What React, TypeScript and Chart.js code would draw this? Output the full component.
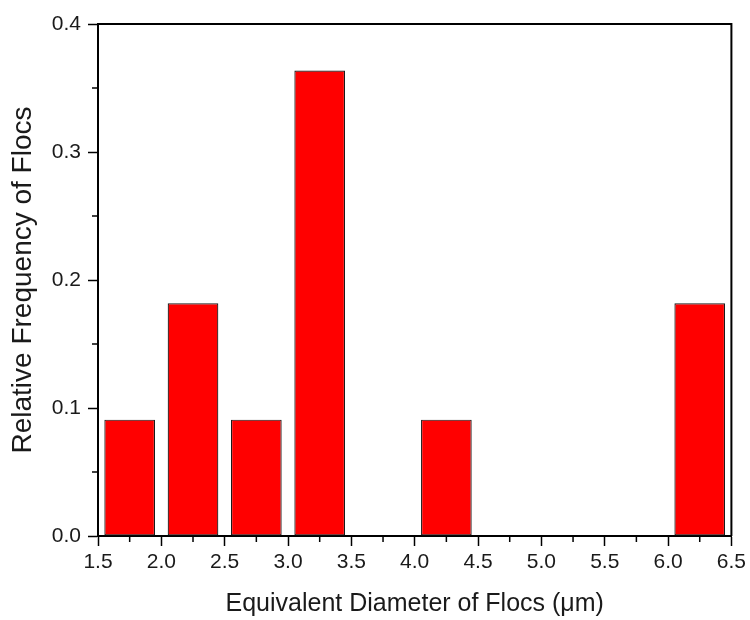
import React, { useEffect, useRef } from "react";
import { Chart, registerables } from "chart.js";

Chart.register(...registerables);

const binCenters: number[] = [1.75, 2.25, 2.75, 3.25, 4.25, 6.25];
const frequencies: number[] = [0.0909, 0.1818, 0.0909, 0.3636, 0.0909, 0.1818];
const xMinorTicks: number[] = [1.75, 2.25, 2.75, 3.25, 3.75, 4.25, 4.75, 5.25, 5.75, 6.25];
const yMinorTicks: number[] = [0.05, 0.15, 0.25, 0.35];
const xTitle = "Equivalent Diameter of Flocs (\u03bcm)";
const yTitle = "Relative Frequency of Flocs";

const FONT = "'Liberation Sans', Arial, Helvetica, sans-serif";

const framePlugin = {
  id: "frameAndMinor",
  afterDraw(chart: any) {
    const { ctx, chartArea } = chart;
    const xs = chart.scales.x;
    const ys = chart.scales.y;
    ctx.save();
    ctx.strokeStyle = "#000";
    ctx.lineWidth = 2;
    ctx.beginPath();
    ctx.moveTo(chartArea.left, chartArea.top);
    ctx.lineTo(chartArea.right, chartArea.top);
    ctx.lineTo(chartArea.right, chartArea.bottom);
    ctx.stroke();
    ctx.lineWidth = 1.5;
    ctx.beginPath();
    for (const v of xMinorTicks) {
      const px = xs.getPixelForValue(v);
      ctx.moveTo(px, chartArea.bottom);
      ctx.lineTo(px, chartArea.bottom + 6);
    }
    for (const v of yMinorTicks) {
      const py = ys.getPixelForValue(v);
      ctx.moveTo(chartArea.left, py);
      ctx.lineTo(chartArea.left - 6, py);
    }
    ctx.stroke();
    ctx.restore();
  },
};

export default function App() {
  const ref = useRef<HTMLCanvasElement | null>(null);
  useEffect(() => {
    if (!ref.current) return;
    const chart = new Chart(ref.current, {
      type: "bar",
      data: {
        datasets: [
          {
            data: binCenters.map((x, i) => ({ x, y: frequencies[i] })),
            backgroundColor: "#ff0000",
            borderColor: "#1a1a1a",
            borderWidth: 1.2,
            borderSkipped: false,
            barPercentage: 0.8,
            categoryPercentage: 1,
          },
        ],
      },
      options: {
        animation: false,
        responsive: true,
        maintainAspectRatio: false,
        layout: { padding: { top: 24, right: 17, left: 0, bottom: 0 } },
        plugins: { legend: { display: false }, tooltip: { enabled: false } },
        scales: {
          x: {
            type: "linear",
            min: 1.5,
            max: 6.5,
            offset: false,
            afterFit: (s: any) => {
              s.height = 84;
            },
            grid: {
              display: true,
              offset: false,
              drawOnChartArea: false,
              drawTicks: true,
              tickLength: 10,
              tickColor: "#000",
              tickWidth: 1.5,
            },
            border: { display: true, color: "#000", width: 2 },
            ticks: {
              stepSize: 0.5,
              padding: 4,
              color: "#1a1a1a",
              font: { family: FONT, size: 21 },
              maxRotation: 0,
              callback: (v: any) => Number(v).toFixed(1),
            },
            title: {
              display: true,
              text: xTitle,
              color: "#1a1a1a",
              font: { family: FONT, size: 25 },
              padding: { top: 0, bottom: 1 },
            },
          },
          y: {
            type: "linear",
            min: 0,
            max: 0.4,
            afterFit: (s: any) => {
              s.width = 98;
            },
            grid: {
              display: true,
              drawOnChartArea: false,
              drawTicks: true,
              tickLength: 10,
              tickColor: "#000",
              tickWidth: 1.5,
            },
            border: { display: true, color: "#000", width: 2 },
            ticks: {
              stepSize: 0.1,
              padding: 7,
              color: "#1a1a1a",
              font: { family: FONT, size: 21 },
              callback: (v: any) => Number(v).toFixed(1),
            },
            title: {
              display: true,
              text: yTitle,
              color: "#1a1a1a",
              font: { family: FONT, size: 28 },
              padding: { top: 6, bottom: 0 },
            },
          },
        },
      },
      plugins: [framePlugin],
    });
    return () => chart.destroy();
  }, []);
  return (
    <div style={{ position: "absolute", left: 0, top: 0, width: 750, height: 620, background: "#fff" }}>
      <canvas ref={ref} />
    </div>
  );
}
